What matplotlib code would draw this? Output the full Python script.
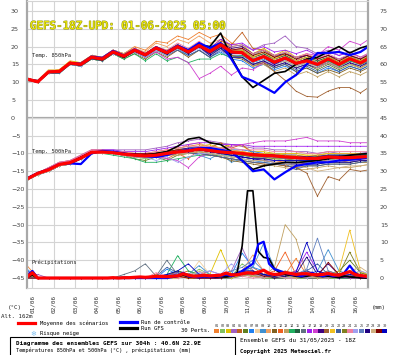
import matplotlib
matplotlib.use('Agg')
import matplotlib.pyplot as plt
import matplotlib.patheffects as pe
from matplotlib.lines import Line2D
from matplotlib.patches import Rectangle
import numpy as np

W, H = 395, 355

dates = ['01/06', '02/06', '03/06', '04/06', '05/06', '06/06', '07/06', '08/06',
         '09/06', '10/06', '11/06', '12/06', '13/06', '14/06', '15/06', '16/06']

# time in days since 01/06 00Z, run starts 31/05 18Z
t12 = -0.25 + 0.5 * np.arange(33)
t6 = -0.25 + 0.25 * np.arange(65)

member_colors = ['#f08030', '#80c060', '#e0c000', '#a060c0', '#c06020', '#608020',
                 '#2080f0', '#f0d0a0', '#4090d0', '#f0a060', '#806020', '#f06020',
                 '#c0a060', '#20b060', '#206040', '#607080', '#a020f0', '#d040d0',
                 '#400080', '#a06030', '#f0c020', '#4060a0', '#808020', '#f080a0',
                 '#a0a0f0', '#6080c0', '#200080', '#d0b080', '#800000', '#0000c0']

# ---- 850 hPa temperature (12h steps)
t850_mean = [10.9, 10.1, 12.9, 13.0, 15.4, 15.0, 17.0, 16.5, 18.5, 17.3, 19.0,
             17.7, 19.6, 18.3, 20.0, 18.5, 20.3, 18.6, 20.5, 18.5, 18.3, 16.0,
             17.2, 15.6, 16.8, 15.3, 16.0, 15.0, 16.5, 15.0, 16.6, 15.4, 17.0]
t850_ctrl = [10.9, 10.1, 12.9, 13.0, 15.4, 15.2, 17.2, 16.8, 18.8, 17.5, 19.2,
             17.8, 19.8, 18.5, 20.3, 19.0, 21.0, 19.6, 21.0, 16.5, 11.5, 10.3,
             8.7, 7.0, 10.0, 12.0, 15.0, 18.2, 18.2, 18.5, 17.6, 18.5, 20.5]
t850_gfs = [10.9, 10.1, 12.8, 13.0, 15.2, 14.8, 16.8, 16.3, 18.3, 17.0, 18.8,
            17.5, 19.5, 18.0, 19.8, 18.3, 20.5, 20.0, 23.8, 17.0, 11.5, 8.5,
            10.5, 12.5, 13.0, 15.0, 16.5, 17.0, 18.5, 20.0, 18.2, 19.6, 20.5]
t850_members = [
    [11, 10, 13, 13, 15.5, 15, 17.5, 17, 19, 18, 20,
     19, 21.5, 21, 23, 22, 24, 22.5, 23.5, 21, 20, 17,
     18, 16, 17, 15.5, 16, 14.5, 16, 14.5, 16, 15, 16.5],
    [10.5, 10, 12.5, 12.5, 15, 14.5, 16.5, 16, 18, 17, 18.5,
     17, 19, 18, 19.5, 18, 20, 18.5, 20.5, 19, 19.5, 17.5,
     19, 17, 18.5, 16.5, 17.5, 16, 17, 16, 17.5, 16, 18],
    [11, 10.5, 13.5, 13.5, 16, 15.5, 17.5, 17, 19, 18, 19.5,
     18, 20, 19, 20.5, 19, 21, 19.5, 22, 20, 20.5, 18,
     19.5, 17.5, 19, 17, 18, 16.5, 17.5, 16, 17, 15.5, 17],
    [11, 10, 13, 13, 15, 14.5, 17, 16.5, 18.5, 17.5, 19,
     18, 19.5, 18.5, 20, 19, 20.5, 19.5, 21, 20, 20.5, 19,
     20.5, 21, 23, 20, 19.5, 18, 19, 17.5, 18.5, 17, 18],
    [10.5, 10, 13, 13.5, 15.5, 15.5, 17, 16.5, 18.5, 17, 19,
     17.5, 19.5, 18, 20, 18.5, 20.5, 19, 21.5, 20.5, 24, 19.5,
     19, 17, 17.5, 15.5, 16, 14.5, 15.5, 14, 15.5, 14, 16],
    [11, 10, 13, 13, 15.5, 15, 16.5, 16, 18, 17, 18.5,
     17, 19, 17.5, 19.5, 18, 20, 18, 19.5, 17.5, 17, 15,
     16, 14.5, 15.5, 14, 15, 13.5, 15, 13.5, 15, 14, 15.5],
    [10.5, 10, 12.5, 12.5, 15, 14.5, 17, 16.5, 18.5, 17, 19,
     17.5, 19.5, 18, 19.5, 17.5, 19, 17, 18.5, 16.5, 16, 14,
     15, 13.5, 14.5, 13, 14, 12.5, 14, 13, 14.5, 13.5, 15],
    [11, 10.5, 13.5, 13.5, 15.5, 15, 17, 16.5, 18.5, 17.5, 19,
     18, 19.5, 18.5, 20, 19, 20.5, 19, 21, 19, 19, 17,
     18, 16.5, 17.5, 16, 17, 16, 17.5, 16, 17.5, 16.5, 18],
    [11, 10, 13, 13, 15.5, 15, 17, 16.5, 18.5, 17, 19,
     17.5, 20, 18.5, 20.5, 18.5, 20, 18, 19.5, 17.5, 17.5, 15.5,
     16.5, 15, 16, 14.5, 15.5, 14.5, 16, 14.5, 16, 15, 16.5],
    [10.5, 10, 13, 13, 15, 15, 17, 16.5, 19, 18, 19.5,
     18.5, 21, 20, 22, 21, 23, 21, 22, 19.5, 19, 17,
     18, 16.5, 17.5, 16, 17, 15.5, 17, 15.5, 17, 16, 17.5],
    [11, 10, 13, 13, 15.5, 15, 17, 16, 18, 16.5, 18,
     16.5, 18.5, 17, 19, 17, 19, 17, 19, 17, 16.5, 14.5,
     15.5, 14, 15, 13, 14, 12.5, 13.5, 12.5, 14, 13, 14.5],
    [11, 10.5, 13, 13.5, 15.5, 15.5, 17.5, 17, 19, 17.5, 19.5,
     18, 20, 18.5, 20.5, 18.5, 20.5, 18.5, 20.5, 18, 18, 16,
     17, 15.5, 17, 15.5, 16.5, 15.5, 17, 15.5, 17, 16, 17.5],
    [10.5, 10, 12.5, 13, 15, 14.5, 16.5, 16, 18, 17, 18.5,
     17, 19, 17.5, 19.5, 18, 20, 18, 20, 17.5, 17, 14.5,
     15, 13, 14, 12, 13, 11.5, 13, 11.5, 13, 12, 13.5],
    [10.5, 10, 12.5, 12.5, 15, 14.5, 16.5, 16, 18, 16.5, 18,
     16, 18, 16, 17, 15.5, 16.5, 16.5, 18, 17, 17.5, 16,
     17, 15.5, 16.5, 15, 16, 15, 16, 14.5, 16, 15, 16],
    [11, 10, 13, 13, 15.5, 15, 17, 16.5, 18.5, 17.5, 19,
     18, 20, 18.5, 20.5, 19, 21, 19.5, 21, 19, 19, 17,
     18, 16.5, 17.5, 16, 17, 16, 17, 15.5, 17, 16, 17.5],
    [11, 10, 13, 13, 15.5, 15, 17, 16.5, 18.5, 17, 19,
     17.5, 19.5, 18, 20, 18, 20, 18, 20, 18, 18.5, 16.5,
     17.5, 16, 17, 15.5, 16.5, 15, 16.5, 15, 16.5, 15.5, 17],
    [11, 10.5, 13, 13, 15.5, 15, 17.5, 17, 19, 18, 19.5,
     18, 20, 18.5, 20.5, 19, 21, 19.5, 22, 20.5, 21, 19,
     20, 18.5, 19, 18, 19, 17.5, 18.5, 17.5, 18.5, 17, 18.5],
    [10.5, 10, 13, 13, 15, 15, 17, 16.5, 18, 17, 18.5,
     17, 18.5, 16.5, 17, 15.5, 11, 12.5, 14.5, 12, 14, 13.5,
     15.5, 15, 16.5, 16, 18, 17.5, 20, 19, 21.5, 20.5, 22.5],
    [11, 10, 13, 13, 15.5, 15, 17, 16.5, 18.5, 17.5, 19,
     17.5, 19.5, 18, 20, 18.5, 20.5, 19, 21, 19.5, 20, 18,
     19, 17.5, 18, 17, 17.5, 16.5, 17.5, 16.5, 17.5, 16.5, 18],
    [10.5, 10, 13, 13, 15.5, 15, 17, 16.5, 18.5, 17, 19,
     17.5, 19.5, 18, 20, 18, 20, 18, 20, 17.5, 17, 15,
     15.5, 13, 10.5, 7.5, 6, 5.8, 7.5, 8.5, 8.5, 7, 9],
    [11, 10.5, 13, 13.5, 15.5, 15.5, 17.5, 17, 19, 18, 19.5,
     18, 20, 18.5, 20.5, 19, 21, 19, 21, 19, 19, 17,
     18.5, 16.5, 18, 16, 17, 15.5, 17, 15.5, 17, 16, 18],
    [10.5, 10, 12.5, 12.5, 15, 14.5, 16.5, 16, 18, 17, 18.5,
     17, 19, 17.5, 19, 17.5, 19, 17, 19, 17, 17, 15,
     16, 14, 15, 13.5, 14.5, 13, 14.5, 13, 14.5, 13.5, 15],
    [11, 10, 13, 13, 15.5, 15, 17, 16.5, 18.5, 17.5, 19,
     18, 20, 18.5, 20.5, 18.5, 20.5, 18.5, 20.5, 18.5, 18.5, 16.5,
     17.5, 16, 17, 15.5, 16, 15, 16.5, 15, 16.5, 15.5, 17],
    [11, 10, 13, 13, 15.5, 15, 17, 16.5, 18.5, 17.5, 19.5,
     18, 20, 19, 21, 19.5, 21.5, 19.5, 21, 19, 19.5, 18,
     19, 17.5, 18.5, 17, 18, 16.5, 18, 16.5, 18, 17, 18.5],
    [10.5, 10, 12.5, 13, 15, 14.5, 17, 16.5, 18, 17, 18.5,
     17, 19, 17.5, 19.5, 18, 19.5, 17.5, 19, 17, 17, 15,
     16, 14.5, 15.5, 14, 15, 14, 15.5, 14, 15.5, 14.5, 16],
    [11, 10, 13, 13, 15.5, 15, 17, 16.5, 18.5, 17.5, 19,
     18, 19.5, 18, 20, 18.5, 20.5, 18.5, 20.5, 18.5, 18.5, 16.5,
     17.5, 16, 17, 15.5, 16.5, 15.5, 16.5, 15, 16.5, 15.5, 17],
    [11, 10, 13, 13, 15.5, 15, 17, 16.5, 18.5, 17, 19,
     17.5, 19.5, 18, 20, 18, 20, 17.5, 19.5, 17, 17, 15,
     16, 14.5, 15.5, 14, 15, 14, 15.5, 14, 15.5, 14.5, 16],
    [10.5, 10, 13, 13, 15, 15, 17, 16.5, 18.5, 17, 19,
     17.5, 19.5, 18, 20, 18.5, 20.5, 18.5, 20.5, 18.5, 18, 16,
     17, 15, 16, 14.5, 15.5, 14, 15.5, 14, 15, 14, 15.5],
    [11, 10, 13, 13, 15.5, 15, 17, 16.5, 18.5, 17.5, 19,
     17.5, 19.5, 18, 20, 18.5, 20.5, 19, 21, 19, 19.5, 17.5,
     18.5, 17, 18, 16.5, 17.5, 16.5, 17.5, 16, 17.5, 16.5, 18],
    [11, 10.5, 13, 13, 15.5, 15, 17, 16.5, 18.5, 17, 19,
     17.5, 19.5, 18, 20, 18.5, 20, 18, 20, 18, 18, 16,
     17, 15, 16.5, 15, 16, 15, 16.5, 15, 16.5, 15.5, 17],
]

# ---- 500 hPa temperature (12h steps)
t500_mean = [-17.2, -15.6, -14.6, -13.1, -12.6, -11.3, -9.7, -9.6, -9.8, -10.2, -10.5,
             -10.7, -10.5, -10.0, -9.6, -9.3, -8.8, -9.2, -9.6, -9.8, -10.0, -10.4,
             -10.6, -10.7, -11.0, -11.2, -11.4, -11.4, -11.0, -11.2, -11.2, -11.0, -10.8]
t500_ctrl = [-17.0, -15.5, -14.5, -13.0, -12.8, -13.0, -10.0, -9.3, -9.5, -10.0, -10.5,
             -10.8, -11.0, -10.5, -9.5, -9.0, -8.5, -8.5, -9.0, -9.6, -12.0, -15.0,
             -14.5, -17.3, -15.3, -13.5, -13.0, -12.5, -12.5, -12.0, -11.8, -11.5, -11.0]
t500_gfs = [-17.0, -15.5, -14.5, -13.0, -12.8, -11.5, -9.8, -9.5, -9.6, -10.0, -10.3,
            -10.5, -10.0, -9.5, -8.0, -6.0, -5.5, -7.0, -7.5, -9.5, -12.0, -14.5,
            -13.5, -13.0, -12.5, -12.6, -12.3, -12.0, -11.5, -11.0, -10.5, -10.2, -10.0]
t500_members = [
    [-17, -15.5, -14.5, -13, -12.5, -11, -9.5, -9.5, -9.5, -10, -10,
     -10, -9.5, -9, -8.5, -8, -7.5, -8, -8.5, -9, -9.5, -10,
     -10, -10.5, -11, -11, -11.5, -11, -10.5, -11, -11, -10.5, -10.5],
    [-17.5, -16, -15, -13.5, -13, -11.5, -10, -9.5, -10, -10.5, -11,
     -11.5, -11, -10.5, -10, -9.5, -9, -9.5, -10, -10, -10.5, -11,
     -11.5, -11.5, -12, -12, -12.5, -12, -11.5, -12, -11.5, -11.5, -11],
    [-17, -15.5, -14, -12.5, -12, -10.5, -9, -9, -9.5, -9.5, -10,
     -10, -10, -9.5, -9, -8.5, -8, -7.5, -8.5, -7.5, -8, -9.5,
     -9.5, -10, -10, -10, -10.5, -10.5, -10, -10, -10, -10, -10],
    [-17, -15.5, -14.5, -13, -12.5, -11, -9.5, -9, -9, -9, -9,
     -9, -8.5, -8, -7, -6.5, -6, -6.5, -7, -7.5, -8, -8.5,
     -8.5, -9, -9, -9.5, -9.5, -10, -9.5, -10, -10, -10, -9.5],
    [-17, -15.5, -14.5, -13, -12.5, -11.5, -10, -10, -10, -10.5, -11,
     -11, -10.5, -10, -9.5, -9, -8.5, -8.5, -7, -8.5, -7.5, -10,
     -10.5, -11, -11.5, -12, -12, -12.5, -12, -12, -12.5, -12, -12],
    [-17.5, -16, -15, -13.5, -13, -11.5, -10, -10, -10, -10.5, -11.5,
     -12, -11, -12, -10.5, -10, -9.5, -10, -10.5, -11, -11, -11.5,
     -11.5, -12, -12, -12.5, -12.5, -12.5, -12, -12, -12, -11.5, -11.5],
    [-17, -15.5, -14.5, -13, -12.5, -11, -9.5, -9.5, -10, -10, -10.5,
     -10.5, -10, -9.5, -9, -8.5, -8, -8.5, -9, -9, -9, -9.5,
     -10, -10, -10.5, -10.5, -11, -11, -10.5, -10.5, -10.5, -10.5, -10],
    [-17, -15.5, -14.5, -13, -12.5, -11, -9.5, -9.5, -9.5, -10, -10.5,
     -10.5, -10.5, -10, -9.5, -9.5, -9, -9.5, -10, -10, -10.5, -11,
     -11, -11.5, -11.5, -11.5, -12, -12, -11.5, -11.5, -11.5, -11, -11],
    [-17.5, -16, -15, -13.5, -13, -11.5, -10, -9.5, -10, -10.5, -11,
     -11, -11, -10.5, -10, -9.5, -10.5, -11.5, -10, -12.5, -11.5, -12,
     -12.5, -13, -13, -13.5, -13, -13, -12.5, -12.5, -12.5, -12, -12],
    [-17, -15.5, -14.5, -13, -12, -11, -9.5, -9.5, -9.5, -10, -10,
     -10.5, -10, -9.5, -9, -7.5, -7, -8.5, -8.5, -9, -9.5, -10,
     -10.5, -11, -11, -11.5, -11.5, -11.5, -11, -11, -11, -11, -10.5],
    [-17, -15.5, -14.5, -13, -12.5, -11.5, -10, -10, -10, -10.5, -10.5,
     -11, -11, -10.5, -10, -10, -9.5, -10, -11, -12, -12.5, -13,
     -13.5, -13, -13.5, -14, -13.5, -13.5, -13, -13, -13, -12.5, -12.5],
    [-17, -15.5, -14.5, -13, -12.5, -11, -9.5, -9.5, -9.5, -10, -10.5,
     -10.5, -10.5, -11.5, -10, -11.5, -9, -9.5, -10, -10.5, -11, -11.5,
     -11.5, -12, -12.5, -12.5, -13, -12.5, -12, -12, -12, -12, -11.5],
    [-17.5, -16, -15, -13.5, -13, -11.5, -10, -10, -10, -10.5, -11,
     -11, -11, -10.5, -10.5, -10, -10, -10.5, -11, -11.5, -12, -12.5,
     -13, -13.5, -14, -14.5, -14.5, -14, -13.5, -14, -14, -13.5, -13],
    [-17.5, -16, -15, -13.5, -13, -11.5, -10, -10, -10.5, -11, -11.5,
     -12.5, -12.5, -12, -11.5, -11, -10.5, -10.5, -10.5, -10.5, -10.5, -10.5,
     -10.5, -11, -11, -11, -11, -11, -10.5, -10.5, -10.5, -10.5, -10],
    [-17, -15.5, -14.5, -13, -12.5, -11, -9.5, -9.5, -10, -10, -10.5,
     -10.5, -10.5, -10, -9.5, -9, -9, -9, -9.5, -9.5, -10, -10,
     -10.5, -10.5, -10.5, -11, -11, -11, -10.5, -10.5, -10.5, -10.5, -10.5],
    [-17, -15.5, -14.5, -13, -12.5, -11, -9.5, -9.5, -10, -10, -10.5,
     -10.5, -10.5, -10, -9.5, -9.5, -9, -9, -9.5, -10, -10.5, -11,
     -11, -11, -11.5, -11.5, -11.5, -11.5, -11, -11, -11, -11, -11],
    [-17, -15.5, -14, -12.5, -12, -10.5, -9, -9, -9, -9.5, -9.5,
     -9.5, -9, -8.5, -8, -7.5, -7, -7, -7.5, -7.5, -7.5, -8,
     -8, -8, -8, -8, -8, -8, -8, -8, -8, -8, -8],
    [-17, -15.5, -14.5, -13, -12.5, -11, -9.5, -9.5, -10, -10.5, -11,
     -11, -11, -11.5, -12, -14, -11, -10, -9, -8, -7.5, -7,
     -6.5, -6.5, -6.5, -6, -5.5, -6.5, -6.5, -6.5, -7, -7, -7],
    [-17, -15.5, -14.5, -13, -12.5, -11, -9.5, -9.5, -9.5, -10, -10,
     -10.5, -10, -9.5, -9, -8.5, -8.5, -9, -9, -9.5, -10, -10,
     -10, -10.5, -10.5, -10.5, -11, -10.5, -10.5, -10.5, -10.5, -10, -10],
    [-17.5, -16, -15, -13.5, -13, -11.5, -10, -10, -10, -10.5, -11,
     -11, -11, -10.5, -10, -10, -10, -10.5, -11, -11.5, -12, -12.5,
     -13, -13, -13.5, -14, -15.5, -22, -16.5, -17.5, -14.5, -15, -14.5],
    [-17, -15.5, -14.5, -13, -12.5, -11, -9.5, -9.5, -9.5, -10, -10,
     -10, -10, -9.5, -9, -9, -8.5, -9, -9.5, -9.5, -9.5, -10,
     -10, -10, -10.5, -10.5, -10.5, -10.5, -10, -10, -10, -10, -10],
    [-17.5, -16, -15, -13.5, -13, -11.5, -10, -10, -10, -10.5, -11,
     -11, -11, -10.5, -10, -10, -10, -10.5, -11, -11.5, -12, -12.5,
     -12.5, -13, -13, -14.5, -13.5, -13.5, -13, -13, -13, -12.5, -12],
    [-17, -15.5, -14.5, -13, -12.5, -11, -9.5, -9.5, -10, -10, -10.5,
     -10.5, -10.5, -10, -9.5, -9.5, -9, -9.5, -10, -10, -10.5, -11,
     -11, -11.5, -11.5, -12, -12, -12, -11.5, -11.5, -11.5, -11.5, -11],
    [-17, -15.5, -14, -12.5, -12, -10.5, -9, -9, -9.5, -9.5, -10,
     -10, -9.5, -9, -8.5, -8, -8, -8, -8.5, -8.5, -9, -9,
     -9, -9.5, -9.5, -9.5, -10, -10, -9.5, -9.5, -9.5, -9.5, -9.5],
    [-17.5, -16, -15, -13.5, -13, -11.5, -10, -10, -10, -10.5, -11,
     -11, -12, -11, -12.5, -11, -10, -10, -10.5, -11, -11, -11.5,
     -12, -12, -12, -12.5, -12.5, -12.5, -12, -12, -12, -12, -11.5],
    [-17, -15.5, -14.5, -13, -12.5, -11, -9.5, -9.5, -10, -10, -10.5,
     -10.5, -10.5, -10, -9.5, -9, -9, -9, -9.5, -10, -10, -10.5,
     -11, -11, -11.5, -11.5, -12, -11.5, -11, -11.5, -11.5, -11, -11],
    [-17, -15.5, -14.5, -13, -12.5, -11, -9.5, -9.5, -9.5, -10, -10.5,
     -10.5, -10.5, -10, -9.5, -9.5, -9, -9.5, -10, -10.5, -11, -11.5,
     -12, -12.5, -13, -13, -13, -13, -12.5, -12.5, -12.5, -12, -12],
    [-17.5, -16, -15, -13.5, -13, -11.5, -10, -10, -10, -10.5, -11,
     -11, -11, -10.5, -10, -10, -9.5, -10, -10.5, -11, -11.5, -12,
     -12, -12.5, -13, -13.5, -14, -15, -14.5, -14, -13.5, -13.5, -13],
    [-17, -15.5, -14.5, -13, -12.5, -11, -9.5, -9.5, -9.5, -10, -10,
     -10, -10, -9.5, -9, -9, -8.5, -9, -9.5, -9.5, -10, -10,
     -10.5, -10.5, -11, -11, -11.5, -11, -11, -11, -11, -11, -10.5],
    [-17, -15.5, -14.5, -13, -12.5, -11, -9.5, -9.5, -10, -10, -10.5,
     -10.5, -10.5, -10, -9.5, -9.5, -9, -9.5, -10, -10.5, -11, -11.5,
     -11.5, -12, -12, -12, -12, -12, -11.5, -11.5, -11.5, -11.5, -11],
]

# ---- precipitation, mm (mean / control / GFS in 6h steps, members in 12h)
prec_mean = [0.3, 1.5, 0, 0, 0, 0, 0, 0, 0, 0,
             0, 0, 0, 0, 0, 0, 0.1, 0, 0.1, 0.1,
             0.2, 0.3, 0.2, 0.3, 0.5, 0.4, 0.4, 0.5, 0.6, 1.2,
             0.8, 0.5, 0.6, 0.8, 0.6, 0.7, 0.8, 1.4, 0.9, 0.9,
             1.2, 1.5, 1.3, 1.6, 2.2, 1.3, 1.0, 1.1, 1.5, 1.3,
             1.0, 1.2, 1.2, 1.0, 0.9, 1.0, 1.3, 0.9, 0.8, 1.3,
             1.8, 1.0, 0.7, 0.5, 0.3]
prec_ctrl = [0.5, 2.0, 0, 0, 0, 0, 0, 0, 0, 0,
             0, 0, 0, 0, 0, 0, 0, 0, 0, 0,
             0, 0, 0, 0, 0, 0, 0, 0.3, 0.5, 1.5,
             0.5, 0.3, 0.2, 0.5, 0.3, 0.5, 0.5, 1.0, 0.5, 1.0,
             2.0, 3.0, 4.0, 9.5, 10.2, 4.0, 2.5, 2.0, 1.5, 1.0,
             0.8, 0.5, 1.0, 1.5, 0.8, 0.5, 1.0, 0.5, 0.8, 1.5,
             3.5, 1.5, 0.5, 0.3, 0]
prec_gfs = [0.2, 0.8, 0, 0, 0, 0, 0, 0, 0, 0,
            0, 0, 0, 0, 0, 0, 0, 0, 0, 0,
            0, 0, 0, 0, 0, 0, 0.3, 0.2, 0.5, 0.8,
            0.4, 0.2, 0.3, 0.5, 0.3, 0.2, 0.4, 0.3, 0.5, 1.0,
            9.0, 24.5, 24.5, 7.5, 5.8, 5.5, 2.5, 1.5, 1.0, 0.8,
            0.5, 0.3, 0.5, 0.8, 0.6, 0.4, 0.5, 0.3, 0.2, 0.5,
            0.3, 0.2, 0.1, 0, 0]
prec_members = [
    [3.5, 0, 0, 0, 0, 0, 0, 0, 0, 0, 0, 0, 1, 0, 0.5, 0, 0, 0, 0, 0, 1, 2, 1, 0, 1, 5.5, 1, 0, 0.5, 1, 1, 0.5, 0],
    [0.5, 0, 0, 0, 0, 0, 0, 0, 0, 0, 0, 0, 0, 0.5, 1, 0.5, 2.5, 1, 0, 0.5, 4, 2, 1, 0, 0, 0.5, 0, 1, 0, 0.5, 0, 1, 0],
    [1, 0, 0, 0, 0, 0, 0, 0, 0, 0, 0, 0, 0, 0, 0, 1, 0.5, 1, 8, 1, 0.5, 1, 0, 0, 0.5, 0, 0, 1, 0, 0, 0.5, 2, 0.5],
    [1, 1, 0, 0, 0, 0, 0, 0, 0, 0, 0, 0, 0.5, 1, 1, 0.5, 1, 2, 1, 2, 8.5, 2, 1, 0.5, 0, 0, 1, 0, 0.5, 0, 1, 0, 0],
    [0.5, 0, 0, 0, 0, 0, 0, 0, 0, 0, 0, 0, 0, 0, 1, 2, 0.5, 0, 0.5, 1, 2, 3, 1, 0.5, 1, 0, 0, 0, 1, 0.5, 0, 0, 0],
    [0, 0, 0, 0, 0, 0, 0, 0, 0, 0, 0, 0, 0, 1, 2, 1, 0, 0, 0.5, 0, 1, 0.5, 0, 0, 0, 0.5, 0, 1, 0.5, 2, 5, 1.5, 0.5],
    [2.5, 0, 0, 0, 0, 0, 0, 0, 0, 0, 0, 0, 0, 2.5, 1, 1, 0.5, 0, 0.5, 1, 7, 3, 2, 0.5, 0, 1, 0.5, 0, 1, 0, 0, 0.5, 0],
    [0, 0, 0, 0, 0, 0, 0, 0, 0, 0, 0, 0, 0.5, 0, 1, 0.5, 4.8, 1, 0, 0, 0.5, 1, 0, 0, 0, 0, 0, 0.5, 0, 0, 0, 0, 0],
    [0, 0, 0, 0, 0, 0, 0, 0, 0, 0.5, 0, 0, 0, 1, 1.5, 1, 3.5, 1, 0.5, 1, 2, 3, 9.8, 3, 1, 0.5, 1, 2, 8, 2, 1, 0.5, 0],
    [0.5, 0, 0, 0, 0, 0, 0, 0, 0, 0, 0, 0, 1, 0, 0, 0.5, 0, 0, 0.5, 1, 2, 6.5, 2, 0.5, 1, 0, 0.5, 0, 0, 0.5, 1, 0, 0],
    [0, 0, 0, 0, 0, 0, 0, 0, 0, 0, 0, 0, 0, 0.5, 1, 1, 0, 0, 0, 0.5, 1, 1, 1, 0.5, 1, 2, 0.5, 1, 1.5, 0.5, 0, 0, 0],
    [1.5, 0, 0, 0, 0, 0, 0, 0, 0, 0, 0, 0, 0, 0.5, 0.5, 0, 0, 0.5, 1, 0.5, 1, 2, 1, 2, 7.3, 1, 0.5, 0, 1, 0.5, 0, 0.5, 0],
    [0, 0, 0, 0, 0, 0, 0, 0, 0, 0, 0, 0, 0, 0, 0.5, 0, 0, 0, 0, 0.5, 1, 1, 0.5, 3, 15, 11, 1, 0.5, 0, 0, 0.5, 0, 0],
    [0.5, 0, 0, 0, 0, 0, 0, 0, 0, 0, 0, 0, 0, 1, 6.3, 2, 1, 0.5, 0, 0, 1, 0.5, 0, 0, 0.5, 0, 0, 0.5, 0, 0, 0, 0, 0],
    [0, 0, 0, 0, 0, 0, 0, 0, 0, 0, 0, 0, 0, 0.5, 2, 1, 0.5, 0, 0, 0.5, 1, 1, 0.5, 0, 0, 0.5, 0, 0, 0.5, 0, 0, 0, 0],
    [0, 0, 0, 0, 0, 0, 0, 0, 0, 1, 2, 4, 0.5, 5, 1, 1, 0, 0.5, 0, 0, 0.5, 1, 0.5, 0, 0, 0.5, 0, 0, 0, 0.5, 0, 0, 0],
    [0, 0, 0, 0, 0, 0, 0, 0, 0, 0, 0, 0, 0, 0.5, 1, 0.5, 0, 0, 0.5, 1, 2, 1, 0.5, 1, 0.5, 2, 7.3, 2, 0.5, 0, 1, 0.5, 0],
    [0, 0, 0, 0, 0, 0, 0, 0, 0, 0, 0, 0, 0.5, 1, 1.5, 0.5, 0, 0, 0, 0.5, 1, 0.5, 0, 0.5, 0, 0, 1, 0.5, 0, 0.5, 0, 0, 0],
    [0, 0, 0, 0, 0, 0, 0, 0, 0, 0, 0, 0, 0, 0.5, 1, 0.5, 0, 0, 0, 1, 2, 1, 0.5, 0, 0.5, 1, 2, 1, 4, 1, 0.5, 0, 0],
    [0, 0, 0, 0, 0, 0, 0, 0, 0, 0, 0, 0, 0, 0, 1, 0.5, 0, 0.5, 0, 1, 1.5, 1, 0.5, 1, 2, 1, 1.5, 1, 2, 1, 0.5, 1, 0],
    [0, 0, 0, 0, 0, 0, 0, 0, 0, 0, 0, 0, 0, 0, 0.5, 0, 0, 0, 0.5, 0, 1, 0.5, 1, 0, 0.5, 0, 0.5, 1, 0.5, 2, 13.5, 2, 0.5],
    [0, 0, 0, 0, 0, 0, 0, 0, 0, 0, 0, 0, 0.5, 3, 1.5, 1, 0.5, 0, 0.5, 1, 2, 2, 1, 0.5, 1, 1, 2, 4, 1, 0.5, 1, 0.5, 0],
    [0, 0, 0, 0, 0, 0, 0, 0, 0, 0, 0, 0, 0, 0.5, 2, 1, 0, 0, 0.5, 0.5, 1, 0.5, 0.5, 0, 0.5, 1, 0.5, 0, 0.5, 1, 7.3, 1.5, 0.5],
    [0.5, 0, 0, 0, 0, 0, 0, 0, 0, 0, 0, 0, 1.5, 0.5, 0, 0.5, 0, 0, 0, 1, 0.5, 0, 0.5, 1, 0, 0.5, 0, 0.5, 1, 0, 0.5, 0, 0],
    [0, 0, 0, 0, 0, 0, 0, 0, 0, 0, 0, 0, 0, 0.5, 1, 1, 1.5, 2, 1, 4, 1.5, 1, 0.5, 0.5, 0, 0.5, 0, 0.5, 0, 1, 1, 2, 1],
    [0, 0, 0, 0, 0, 0, 0, 0, 0, 0, 0, 0, 0, 1, 1, 0.5, 1, 0.5, 1, 2, 3, 5, 2, 1, 0.5, 1, 2.5, 11.2, 2, 1, 0.5, 1, 0],
    [0, 0, 0, 0, 0, 0, 0, 0, 0, 0, 0, 0, 0, 0.5, 1, 0.5, 0, 0, 0, 0.5, 1, 1.5, 1, 0, 0.5, 1, 5.9, 1, 0.5, 0, 0.5, 0, 0],
    [0, 0, 0, 0, 0, 0, 0, 0, 0, 0, 0, 0, 0, 0, 1, 0.5, 2, 0.5, 0, 0.5, 1, 0.5, 0, 0.5, 0, 0, 0.5, 0, 0, 0.5, 2, 3, 1],
    [0, 0, 0, 0, 0, 0, 0, 0, 0, 0, 0, 0, 0, 0, 0.5, 0, 0, 0, 0, 0.5, 1, 1.5, 0.5, 0.5, 1, 0.5, 1, 0.5, 4.4, 1, 0.5, 0, 0],
    [2, 0, 0, 0, 0, 0, 0, 0, 0, 0, 0, 0, 0, 1, 2, 4, 1, 0.5, 0.5, 1, 2, 2, 1, 0.5, 1, 1.5, 10, 2, 1, 0.5, 1, 0.5, 0],
]
PREC_ZERO = -45  # precipitation zero sits on the -45 line of the left scale


def fx(px):
    return px / W


def fy(py):
    return 1 - py / H


MONO = 'DejaVu Sans Mono'

fig = plt.figure(figsize=(W / 100, H / 100), dpi=100)
ax = fig.add_axes([fx(27), fy(288), (368 - 27) / W, (288 - 1) / H])

for vals, c in zip(t850_members, member_colors):
    ax.plot(t12, vals, color=c, lw=0.6, marker='o', ms=0.9, mew=0)
for vals, c in zip(t500_members, member_colors):
    ax.plot(t12, vals, color=c, lw=0.6, marker='o', ms=0.9, mew=0)
for vals, c in zip(prec_members, member_colors):
    ax.plot(t12, np.array(vals) + PREC_ZERO, color=c, lw=0.6, marker='o', ms=0.9, mew=0)

ax.plot(t12, t850_gfs, color='black', lw=1.2)
ax.plot(t12, t500_gfs, color='black', lw=1.2)
ax.plot(t6, np.array(prec_gfs) + PREC_ZERO, color='black', lw=1.2)
ax.plot(t12, t850_ctrl, color='#0000ff', lw=1.6)
ax.plot(t12, t500_ctrl, color='#0000ff', lw=1.6)
ax.plot(t6, np.array(prec_ctrl) + PREC_ZERO, color='#0000ff', lw=1.6)
ax.plot(t12, t850_mean, color='#ff0000', lw=2.3)
ax.plot(t12, t500_mean, color='#ff0000', lw=2.3)
ax.plot(t6, np.array(prec_mean) + PREC_ZERO, color='#ff0000', lw=2.3)

ax.set_xlim(-0.25, 15.6)
ax.set_ylim(-47.8, 32.8)

ax.set_yticks(np.arange(-45, 31, 5))
ax.set_xticks(np.arange(len(dates)))
ax.set_xticklabels(dates, rotation=90, fontsize=4.3, family=MONO, color='#333333')
ax.tick_params(axis='x', length=0, pad=5)
ax.tick_params(axis='y', length=0, pad=11.5, labelsize=4.6, labelcolor='#444444')
for lab in ax.get_yticklabels():
    lab.set_ha('left')
ax.grid(True, color='#d4d4d4', lw=0.8)
ax.set_axisbelow(True)
ax.axhline(0, color='#a8a8a8', lw=1.6, zorder=0.5)
for side in ['left', 'right']:
    ax.spines[side].set_color('#a8a8a8')
    ax.spines[side].set_linewidth(1.6)
for side in ['top', 'bottom']:
    ax.spines[side].set_color('#d4d4d4')
    ax.spines[side].set_linewidth(0.8)

sec = ax.secondary_yaxis('right', functions=(lambda v: v + 45, lambda v: v - 45))
sec.set_yticks(np.arange(0, 76, 5))
sec.tick_params(length=0, pad=8.6, labelsize=4.6, labelcolor='#444444')
sec.spines['right'].set_visible(False)

# panel titles
fig.text(fx(30), fy(26), 'GEFS-18Z-UPD: 01-06-2025 05:00', fontsize=7.8, family=MONO,
         color='#f4f000', va='center',
         path_effects=[pe.withStroke(linewidth=0.9, foreground='#9a9a20')])
fig.text(fx(32), fy(55), 'Temp. 850hPa', fontsize=3.9, family=MONO, va='center', color='#222222')
fig.text(fx(32), fy(151), 'Temp. 500hPa', fontsize=3.9, family=MONO, va='center', color='#222222')
fig.text(fx(32), fy(262), 'Précipitations', fontsize=3.9, family=MONO, va='center', color='#222222')

# bottom annotations
fig.text(fx(8), fy(307), '(°C)', fontsize=4.2, family=MONO, va='center', color='#222222')
fig.text(fx(372), fy(308), '(mm)', fontsize=4.2, family=MONO, va='center', color='#222222')
fig.text(fx(1), fy(316), 'Alt. 162m', fontsize=4.2, family=MONO, va='center', color='#222222')

fig.add_artist(Line2D([fx(18), fx(35)], [fy(323), fy(323)], color='#ff0000', lw=2.3))
fig.text(fx(40), fy(323), 'Moyenne des scénarios', fontsize=4.0, family=MONO, va='center')
fig.add_artist(Line2D([fx(120), fx(137)], [fy(322), fy(322)], color='#0000ff', lw=2.3))
fig.text(fx(141), fy(322.5), 'Run de contrôle', fontsize=4.0, family=MONO, va='center')
fig.add_artist(Line2D([fx(120), fx(137)], [fy(328), fy(328)], color='black', lw=2.3))
fig.text(fx(141), fy(328.5), 'Run GFS', fontsize=4.0, family=MONO, va='center')
fig.text(fx(181), fy(330), '30 Perts.', fontsize=4.0, family=MONO, va='center')

for i, c in enumerate(member_colors):
    x0 = 214 + i * 5.8
    fig.text(fx(x0 + 2.6), fy(326), '%02d' % (i + 1), fontsize=2.6, family=MONO,
             ha='center', va='center', color='#333333')
    fig.add_artist(Rectangle((fx(x0), fy(333)), 5.2 / W, 4 / H, facecolor=c,
                             edgecolor='none', transform=fig.transFigure))

fig.text(fx(30), fy(334), '❄', fontsize=5, color='#80c0f0', va='center', family='DejaVu Sans')
fig.text(fx(40), fy(334), 'Risque neige', fontsize=4.0, family=MONO, va='center')

fig.add_artist(Rectangle((fx(10), fy(356)), 225 / W, 19 / H, facecolor='none',
                         edgecolor='black', lw=0.8, transform=fig.transFigure))
fig.text(fx(16), fy(343), 'Diagramme des ensembles GEFS sur 304h : 40.6N 22.9E',
         fontsize=4.3, family=MONO, weight='bold', va='center')
fig.text(fx(16), fy(350), 'Températures 850hPa et 500hPa (°C) , précipitations (mm)',
         fontsize=3.8, family=MONO, va='center')
fig.text(fx(240), fy(340), 'Ensemble GEFS du 31/05/2025 - 18Z', fontsize=4.2,
         family=MONO, va='center')
fig.text(fx(240), fy(351), 'Copyright 2025 Meteociel.fr', fontsize=4.1,
         family=MONO, weight='bold', va='center')

fig.savefig('out.png', dpi=100)
